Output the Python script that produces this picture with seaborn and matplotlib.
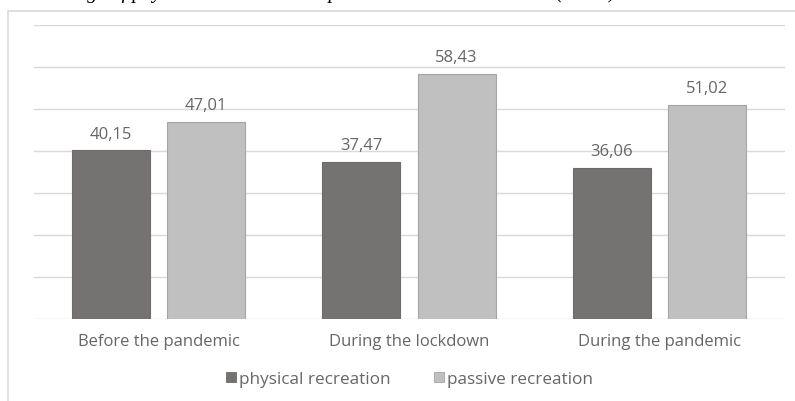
import matplotlib.pyplot as plt
import seaborn as sns
import pandas as pd
from matplotlib.patches import Rectangle

# data
periods = ["Before the pandemic", "During the lockdown", "During the pandemic"]
physical = [40.15, 37.47, 36.06]
passive = [47.01, 58.43, 51.02]
series = ["physical recreation", "passive recreation"]
colors = ["#767171", "#c0c0c0"]
edges = ["#6e6a6a", "#a5a5a5"]
title = "Average of physical recreation and passive recreation duration (hours)"

df = pd.DataFrame({
    "period": periods * 2,
    "kind": [series[0]] * len(periods) + [series[1]] * len(periods),
    "value": physical + passive,
})

sns.set_style("white")
plt.rcParams["font.family"] = ["Open Sans", "DejaVu Sans"]
text_gray = "#666666"

fig = plt.figure(figsize=(7.95, 4.02), dpi=100)
ax = fig.add_axes([33.5 / 795, 1 - 320 / 402, 751 / 795, 294 / 402])

sns.barplot(data=df, x="period", y="value", hue="kind", palette=colors,
            width=0.76, gap=0.18, ax=ax, legend=False)

# bar edges and value labels with comma decimals
for cont, ec, vals in zip(ax.containers, edges, [physical, passive]):
    for p in cont:
        p.set_edgecolor(ec)
        p.set_linewidth(0.8)
    ax.bar_label(cont, labels=[f"{v:.2f}".replace(".", ",") for v in vals],
                 padding=6, color=text_gray, fontsize=12)

ax.set_ylim(0, 70)
ax.set_yticks(range(0, 71, 10))
ax.set_yticklabels([])
ax.grid(axis="y", color="#d9d9d9", linewidth=1)
ax.set_axisbelow(True)
sns.despine(ax=ax, left=True, bottom=True)
ax.tick_params(axis="both", length=0)
ax.tick_params(axis="x", labelsize=12, labelcolor=text_gray, pad=10)
ax.set_xlabel("")
ax.set_ylabel("")

handles = [Rectangle((0, 0), 1, 1, fc=c, ec=e, lw=0.6) for c, e in zip(colors, edges)]
fig.legend(handles, series, loc="center", bbox_to_anchor=(0.515, 1 - 380 / 402), ncol=2,
           frameon=False, fontsize=12.3, labelcolor=text_gray, handlelength=0.6,
           handleheight=0.6, handletextpad=0.2, columnspacing=2.5)

# outer chart frame
fig.patches.append(Rectangle((8 / 795, -0.1), 1.0, 1 - 12 / 402 + 0.1,
                             transform=fig.transFigure, fill=False,
                             ec="#d9d9d9", lw=1.2))

# cropped caption line at the very top
fig.text(40 / 795, 1 + 2 / 402, title, fontsize=14.6, fontstyle="italic",
         family="Liberation Serif", va="baseline", ha="left", color="black")

fig.savefig("out.png", dpi=100)
